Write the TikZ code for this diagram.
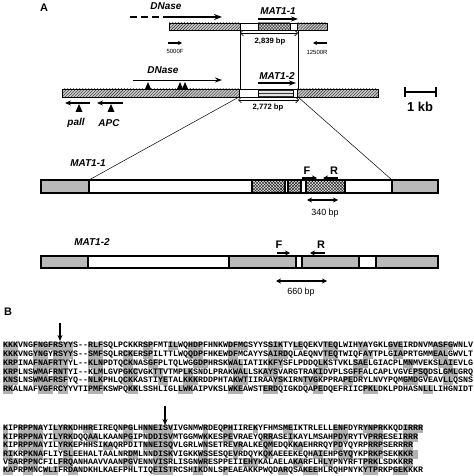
\documentclass[tikz,border=0pt]{standalone}
\usepackage{fontspec}
\setmainfont{Liberation Sans}
\newfontfamily\seqfont[Ligatures=TeXOff]{Liberation Mono Bold}
\usetikzlibrary{arrows.meta,patterns,positioning,calc}

\tikzset{
    hatch/.style={draw=black, line width=0.6pt, preaction={fill=gray!45}, pattern=north east lines, pattern color=black!80},
    checks/.style={draw=black, line width=0.6pt, preaction={fill=gray!25}, pattern=crosshatch, pattern color=black!85},
    dashes/.style={draw=black, line width=0.6pt, preaction={fill=gray!20}, pattern=horizontal lines, pattern color=black!80},
    blank/.style={draw=black, line width=0.6pt, fill=white},
    stipple/.style={draw=black, fill=gray!55},
    gene/.style={font=\bfseries\itshape\fontsize{10}{10}\selectfont},
    bplabel/.style={font=\bfseries\fontsize{7.7}{8}\selectfont},
    primer/.style={font=\fontsize{6}{6}\selectfont},
    hl/.style={fill=gray!60},
    seq/.style={font=\seqfont\fontsize{8.33bp}{8.7bp}\selectfont, inner sep=0pt, anchor=west}
}

\begin{document}
\begin{tikzpicture}[x=1bp, y=-1bp, >=Stealth]
    \useasboundingbox (0,0) rectangle (474,476);

    % ---- panel A: locus maps
    \node[font=\bfseries\fontsize{11}{11}\selectfont] (lblA) at (44,8) {A};

    % MAT1-1 locus
    \node[gene] (dnaseTop) at (166,6) {DNase};
    \draw[line width=2pt, dash pattern=on 7pt off 4pt] (130,17) -- (170,17);
    \draw[-{Stealth[length=8pt,width=6pt]}, line width=2.2pt] (170,17) -- (222,17);
    \node[gene] (mat11) at (278,11) {MAT1-1};
    \draw[-{Stealth[length=7pt,width=5pt]}, line width=2pt] (258,19) -- (298,19);

    \def\ya{23} \def\yb{30}
    \foreach \a/\b in {169/240, 297/327} \draw[hatch] (\a,\ya) rectangle (\b,\yb);
    \foreach \a/\b in {240/258, 290/297} \draw[blank] (\a,\ya) rectangle (\b,\yb);
    \draw[checks] (258,\ya) rectangle (290,\yb);

    \draw[{Straight Barb[length=3pt]}-{Straight Barb[length=3pt]}, line width=0.6pt] (240,33) -- (298,33);
    \node[bplabel] (bp2839) at (270,42) {2,839 bp};
    \draw[line width=0.6pt] (240,30) -- (240,89) (298,30) -- (298,89);

    \draw[-{Stealth[length=4pt,width=4pt]}, line width=1.3pt] (168,43) -- (182,43);
    \node[primer] (f5000) at (175,51) {5000F};
    \draw[-{Stealth[length=4pt,width=4pt]}, line width=1.3pt] (327,43) -- (313,43);
    \node[primer] (r12500) at (317,52) {12500R};

    % MAT1-2 locus
    \node[gene] (dnaseMid) at (163,70) {DNase};
    \draw[-{Stealth[length=7pt,width=5pt]}, line width=0.9pt] (133,80) -- (222,80);
    \node[gene] (mat12) at (277,76) {MAT1-2};
    \draw[-{Stealth[length=7pt,width=5pt]}, line width=2pt] (258,83) -- (296,83);

    \def\yc{89} \def\yd{97}
    \foreach \a/\b in {62/239, 297/378} \draw[hatch] (\a,\yc) rectangle (\b,\yd);
    \foreach \a/\b in {239/258, 293/297} \draw[blank] (\a,\yc) rectangle (\b,\yd);
    \draw[dashes] (258,\yc) rectangle (293,\yd);
    \foreach \x in {148,180,185} \fill (\x-3,\yc) -- (\x+3,\yc) -- (\x,82) -- cycle;

    \draw[{Straight Barb[length=3pt]}-{Straight Barb[length=3pt]}, line width=0.6pt] (238,100) -- (299,100);
    \node[bplabel] (bp2772) at (268,108) {2,772 bp};

    \draw[-{Stealth[length=6pt,width=5pt]}, line width=1.8pt] (90,103) -- (65,103);
    \draw[-{Stealth[length=6pt,width=5pt]}, line width=1.8pt] (123,103) -- (97,103);
    \foreach \x in {79,111} \fill (\x-3.5,112) -- (\x+3.5,112) -- (\x,104) -- cycle;
    \node[gene] (pall) at (76,123) {pall};
    \node[gene] (apc) at (109,123) {APC};

    % scale bar
    \draw[line width=1.3pt] (405,92) -- (436,92) (405,87) -- (405,97) (436,87) -- (436,97);
    \node[font=\bfseries\fontsize{13}{13}\selectfont] (kb) at (420,107) {1 kb};

    % expansion
    \draw[line width=0.5pt] (239,97) -- (89,180) (298,97) -- (392,180);

    % MAT1-1 detail
    \node[gene] (mat11det) at (88,163) {MAT1-1};
    \begin{scope}[line width=1.4pt]
    \def\ye{180} \def\yf{193}
    \foreach \a/\b in {41/89, 392/438} \draw[stipple] (\a,\ye) rectangle (\b,\yf);
    \foreach \a/\b in {89/252, 285/288, 301/306, 345/392} \draw[blank, line width=1.4pt] (\a,\ye) rectangle (\b,\yf);
    \foreach \a/\b in {252/285, 288/301, 306/345} \draw[checks, line width=1.4pt] (\a,\ye) rectangle (\b,\yf);
    \end{scope}
    \node[font=\bfseries\fontsize{11}{11}\selectfont] (F1) at (307,171) {F};
    \node[font=\bfseries\fontsize{11}{11}\selectfont] (R1) at (334,171) {R};
    \draw[-{Stealth[length=5pt,width=5pt]}, line width=1.8pt] (302,178) -- (317,178);
    \draw[-{Stealth[length=5pt,width=5pt]}, line width=1.8pt] (338,178) -- (323,178);
    \draw[{Stealth[length=5pt,width=5pt]}-{Stealth[length=5pt,width=5pt]}, line width=1.4pt] (307,200) -- (338,200);
    \node[font=\fontsize{9}{9}\selectfont] (bp340) at (325,213) {340 bp};

    % MAT1-2 detail
    \node[gene] (mat12det) at (92,242) {MAT1-2};
    \begin{scope}[line width=1.4pt]
    \def\yg{256} \def\yh{268}
    \foreach \a/\b in {41/88, 229/296, 302/359, 376/438} \draw[stipple] (\a,\yg) rectangle (\b,\yh);
    \foreach \a/\b in {88/229, 296/302, 359/376} \draw[blank, line width=1.4pt] (\a,\yg) rectangle (\b,\yh);
    \end{scope}
    \node[font=\bfseries\fontsize{11}{11}\selectfont] (F2) at (279,245) {F};
    \node[font=\bfseries\fontsize{11}{11}\selectfont] (R2) at (321,245) {R};
    \draw[-{Stealth[length=5pt,width=5pt]}, line width=1.8pt] (277,253) -- (290,253);
    \draw[-{Stealth[length=5pt,width=5pt]}, line width=1.8pt] (325,253) -- (310,253);
    \draw[{Stealth[length=5pt,width=5pt]}-{Stealth[length=5pt,width=5pt]}, line width=1.4pt] (276,281) -- (327,281);
    \node[font=\fontsize{9}{9}\selectfont] (bp660) at (301,292) {660 bp};

    % ---- panel B: alignment
    \node[font=\bfseries\fontsize{11}{11}\selectfont] (lblB) at (8,312) {B};
    \draw[-{Stealth[length=6pt,width=5pt]}, line width=1.2pt] (60,323) -- (60,341);
    \draw[-{Stealth[length=6pt,width=5pt]}, line width=1.2pt] (165,406) -- (165,425);

    % shaded residues, block 1
    \foreach \i/\runs in {
        0/{0/3,6/3,9/5,17/3,28/2,33/2,37/3,45/4,53/3,58/2,64/3,71/2,77/3,86/4},
        1/{0/3,6/3,10/4,17/3,24/2,28/2,37/3,45/2,53/4,64/3,72/2,78/2,86/3},
        2/{0/3,6/3,9/4,17/3,24/2,29/2,38/3,45/3,53/3,63/2,70/3,80/2,87/3},
        3/{0/3,6/3,10/3,18/2,24/3,30/2,36/2,46/3,52/3,62/2,70/2,82/3,88/3},
        4/{0/3,6/4,10/3,17/3,24/2,31/2,36/3,46/3,54/2,60/3,68/2,80/3,88/2},
        5/{0/2,7/3,11/2,17/3,25/2,35/3,45/3,52/3,62/2,72/3,84/2}}
        \foreach \c/\n in \runs
            \fill[hl] ({3+5*\c},{346+8.7*\i-4.4}) rectangle ++({5*\n},8.8);

    \foreach \i/\s in {
        0/KKKVNGFNGFRSYYS--RLFSQLPCKKRSPFMTILWQHDPFHNKWDFMCSYYSSIKTYLEQEKVTEQLWIHYAYGKLGVEIRDNVMASFGWNLV,
        1/KKKVNGYNGYRSYYS--SMFSQLRCKERSPILTTLWQQDPFHKEWDFMCAYYSAIRDQLAEQNVTEQTWIQFAYTPLGIAPRTGMMEALGWVLT,
        2/KRPINAFNAFRTYYL--KLNPDTQCKNASGFPLTQLWGGDPHRSKWALIATIKKFYSFLPDDQLKSTVKLSAELGIACPLMNMVEKSLAIEVLG,
        3/KRPLNSWMAFRNTYI--KLMLGVPGKCVGKTTVTMPLKSNDLPRAKWALLSKAYSVARGTRAKIDVPLSGFFALCAPLVGVEPSQDSLGMLGRQ,
        4/KNSLNSWMAFRSFYQ--NLKPHLQCKKASTIYETALKKKRDDPHTAKWTIIRAAYSKIRNTVGKPPRAPEDRYLNVYPQMGMDGVEAVLLQSNS,
        5/RKALNAFVGFRCYYVTIPMFKSWPQKKLSSHLIGLLWKAIPVKSLWKEAWSTERDQIGKDQAPEDQEFRIICPKLDKLPDHASNLLLIHGNIDT}
        \node[seq] (ba\i) at (3,{346+8.7*\i}) {\s};

    % shaded residues, block 2
    \foreach \i/\runs in {
        0/{0/1,3/5,10/4,16/2,24/2,28/6,40/1,44/2,50/1,56/2,66/3,72/4,80/4},
        1/{0/1,3/5,10/4,17/2,24/2,29/5,40/1,44/2,52/2,57/1,66/3,73/3,80/3},
        2/{0/1,3/5,11/3,20/2,28/6,40/1,46/2,52/2,58/2,66/2,73/3,80/2},
        3/{0/2,4/4,12/2,25/2,30/4,39/2,46/1,52/2,62/2,67/3,73/3,79/4},
        4/{1/2,4/3,11/3,24/2,30/3,39/2,48/3,58/2,64/2,72/3,80/2},
        5/{0/2,4/2,8/3,13/2,30/4,38/2,44/1,55/2,60/3,72/3,78/3}}
        \foreach \c/\n in \runs
            \fill[hl] ({3+5*\c},{429+8.4*\i-4.3}) rectangle ++({5*\n},8.6);

    \foreach \i/\s in {
        0/KIPRPPNAYILYRKDHHREIREQNPGLHNNEISVIVGNMWRDEQPHIIREKYFHMSMEIKTRLELLENFDYRYNPRKKQDIRRR,
        1/KIPRPPNAYILYRKDQQAALKAANPGIPNDDISVMTGGMWKKESPEVRAEYQRRASEIKAYLMSAHPDYRYTVPRRESEIRRR,
        2/KIPRPPNAYILYRKEPHHSIKAQRPDITNNEISQVLGRLWNSETREVRALKEQMEDQKKAEHRRQYPDYQYRPRRPSERRRR,
        3/RIKRPKNAFLIYSLEEHALTAALNRDMLNNDISKVIGKKWSSESQEVRDQYKQKAEEEKEQHAIEHPGYQYKPRKPSEKKKR,
        4/VSARPPNCFILFRQANHAAVVAANPGVENNVISRLISGNWRESPPEIIEHYKALAELAKARFLHLYPNYRFTPRKLSDKKRR,
        5/KAPRPMNCWLIFRDANDKHLKAEFPHLTIQEISTRCSHIKDNLSPEAEAKKPWQDARQSAKEEHLRQHPNYKYTPRKPGEKKKR}
        \node[seq] (bb\i) at (3,{429+8.4*\i}) {\s};

\end{tikzpicture}
\end{document}
